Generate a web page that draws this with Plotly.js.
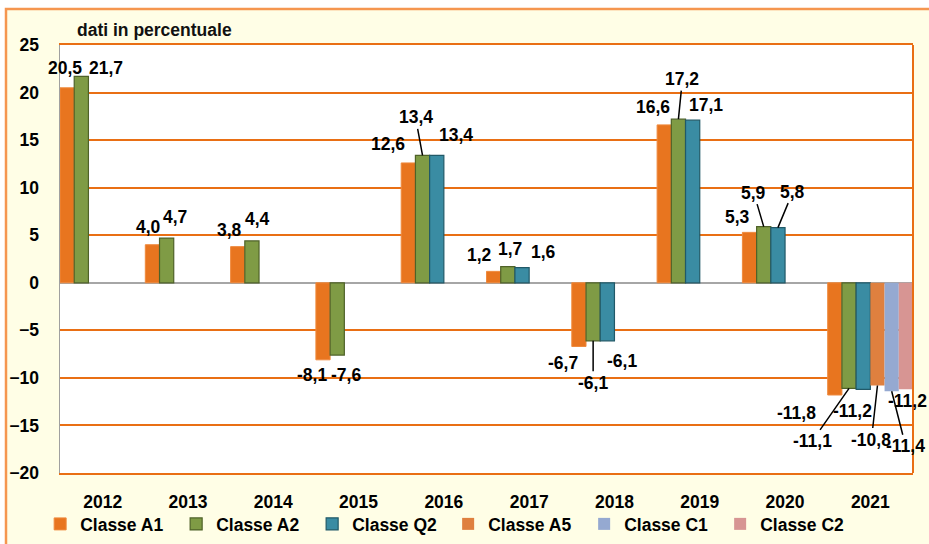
<!DOCTYPE html>
<html>
<head>
<meta charset="utf-8">
<script src="https://cdn.plot.ly/plotly-3.0.1.min.js"></script>
<style>html,body{margin:0;padding:0;background:#fff;}#chart{width:929px;height:544px;}</style>
</head>
<body>
<div id="chart"></div>
<script>
// ---- data ----
const years = ['2012','2013','2014','2015','2016','2017','2018','2019','2020','2021'];
const classA1 = [20.5, 4.0, 3.8, -8.1, 12.6, 1.2, -6.7, 16.6, 5.3, -11.8];
const classA2 = [21.7, 4.7, 4.4, -7.6, 13.4, 1.7, -6.1, 17.2, 5.9, -11.1];
const classQ2 = [null, null, null, null, 13.4, 1.6, -6.1, 17.1, 5.8, -11.2];
const classA5 = [null, null, null, null, null, null, null, null, null, -10.8];
const classC1 = [null, null, null, null, null, null, null, null, null, -11.4];
const classC2 = [null, null, null, null, null, null, null, null, null, -11.2];
const seriesNames = ['Classe A1','Classe A2','Classe Q2','Classe A5','Classe C1','Classe C2'];
const yTicks = [-20,-15,-10,-5,0,5,10,15,20,25];

// ---- styling ----
const series = [classA1, classA2, classQ2, classA5, classC1, classC2];
const fills  = ['#e8751f', '#7f9b45', '#3a8ca3', '#df803f', '#95a9d1', '#d79593'];
const edges  = ['#ef8a3e', '#4f6228', '#215968', '#df803f', '#95a9d1', '#d79593'];
const edgeW  = [1, 1.2, 1.2, 0, 0, 0];
// label offsets in pixels [dx, dy(down), leader line]
const labelPos = [
  [[-2,-20],[-4,-18],[-8,-17],[-11,15],[-20,-19],[-14,-16],[-16,16],[-11,-18],[-12,-15],[-38,18]],
  [[25,-8],[8,-21],[6,-22],[9,20],[-7,-38,1],[2,-18],[0,42,1],[4,-40,1],[-10,-34,1],[-37,53,1]],
  [null,null,null,null,[19,-20],[21,-16],[15,20],[13,-15],[15,-36,1],[-11,22]],
  [null,null,null,null,null,null,null,null,null,[-6,54,1]],
  [null,null,null,null,null,null,null,null,null,[14,55,1]],
  [null,null,null,null,null,null,null,null,null,[2,12]]
];

const FONT = 'Liberation Sans, Arial, sans-serif';
const ORANGE = '#e96f14';
const nS = series.length;
const xIdx = years.map((_, i) => i);

const traces = series.map((vals, k) => ({
  type: 'bar',
  name: seriesNames[k],
  x: xIdx,
  y: vals,
  width: 1 / nS,
  offset: -0.5 + k / nS,
  marker: {color: fills[k], line: {color: edges[k], width: edgeW[k]}},
  hoverinfo: 'skip'
}));

const annotations = [];
series.forEach((vals, k) => {
  vals.forEach((v, i) => {
    if (v === null) return;
    const p = labelPos[k][i];
    if (!p) return;
    const base = {
      x: i - 0.5 + (k + 0.5) / nS,
      y: v,
      xref: 'x', yref: 'y',
      text: v.toFixed(1).replace('.', ','),
      font: {family: FONT, size: 17.5, color: '#000', weight: 'bold'},
      xanchor: 'center', yanchor: 'middle'
    };
    if (p[2]) {
      Object.assign(base, {showarrow: true, ax: p[0], ay: p[1], arrowhead: 0,
        arrowwidth: 1.5, arrowcolor: '#000', standoff: 0, startstandoff: 0});
    } else {
      Object.assign(base, {showarrow: false, xshift: p[0], yshift: -p[1]});
    }
    annotations.push(base);
  });
});

const layout = {
  width: 929, height: 544,
  margin: {l: 60, r: 16, t: 45, b: 71, pad: 0, autoexpand: false},
  paper_bgcolor: '#ffffff',
  plot_bgcolor: '#ffffff',
  font: {family: FONT, size: 17.5, color: '#000'},
  barmode: 'overlay',
  showlegend: true,
  title: {
    text: 'dati in percentuale',
    font: {family: FONT, size: 17.5, color: '#111', weight: 'bold'},
    x: (77 - 60) / 853, xref: 'paper', xanchor: 'left',
    y: 1 - 30 / 544, yref: 'container', yanchor: 'middle'
  },
  xaxis: {
    range: [-0.5, years.length - 0.5],
    tickvals: xIdx, ticktext: years,
    showgrid: false, zeroline: false,
    showline: true, mirror: true, linecolor: ORANGE, linewidth: 2,
    ticks: '', ticklabelstandoff: 12,
    tickfont: {family: FONT, size: 17.5, color: '#000', weight: 'bold'},
    fixedrange: true
  },
  yaxis: {
    range: [-20, 25],
    tickvals: yTicks,
    showgrid: true, gridcolor: ORANGE, gridwidth: 2,
    zeroline: true, zerolinecolor: '#a6a6a6', zerolinewidth: 2,
    showline: true, linecolor: '#a0a0a0', linewidth: 1.5,
    ticks: '', ticklabelstandoff: 16,
    tickfont: {family: FONT, size: 17.5, color: '#000', weight: 'bold'},
    fixedrange: true
  },
  legend: {
    orientation: 'h',
    x: -0.035 + 10 / 853, xanchor: 'left',
    y: (473 - 524) / 428, yanchor: 'middle',
    entrywidth: 91, itemwidth: 30,
    bgcolor: 'rgba(0,0,0,0)',
    font: {family: FONT, size: 17.5, color: '#000', weight: 'bold'},
    traceorder: 'normal'
  },
  shapes: [
    {type: 'rect', xref: 'paper', yref: 'paper', layer: 'below',
     x0: (6 - 60) / 853, x1: 1.2, y0: -0.3, y1: (473 - 9) / 428,
     fillcolor: '#fffee6', line: {color: '#f5964f', width: 2.5}},
    {type: 'rect', xref: 'paper', yref: 'paper', layer: 'below',
     x0: 0, x1: 1, y0: 0, y1: 1, fillcolor: '#ffffff', line: {width: 0}},
    {type: 'line', xref: 'paper', yref: 'paper', x0: 1, x1: 1, y0: 0, y1: 1,
     line: {color: ORANGE, width: 2}}
  ],
  annotations: annotations
};

Plotly.newPlot('chart', traces, layout, {staticPlot: true, displayModeBar: false});
</script>
</body>
</html>
